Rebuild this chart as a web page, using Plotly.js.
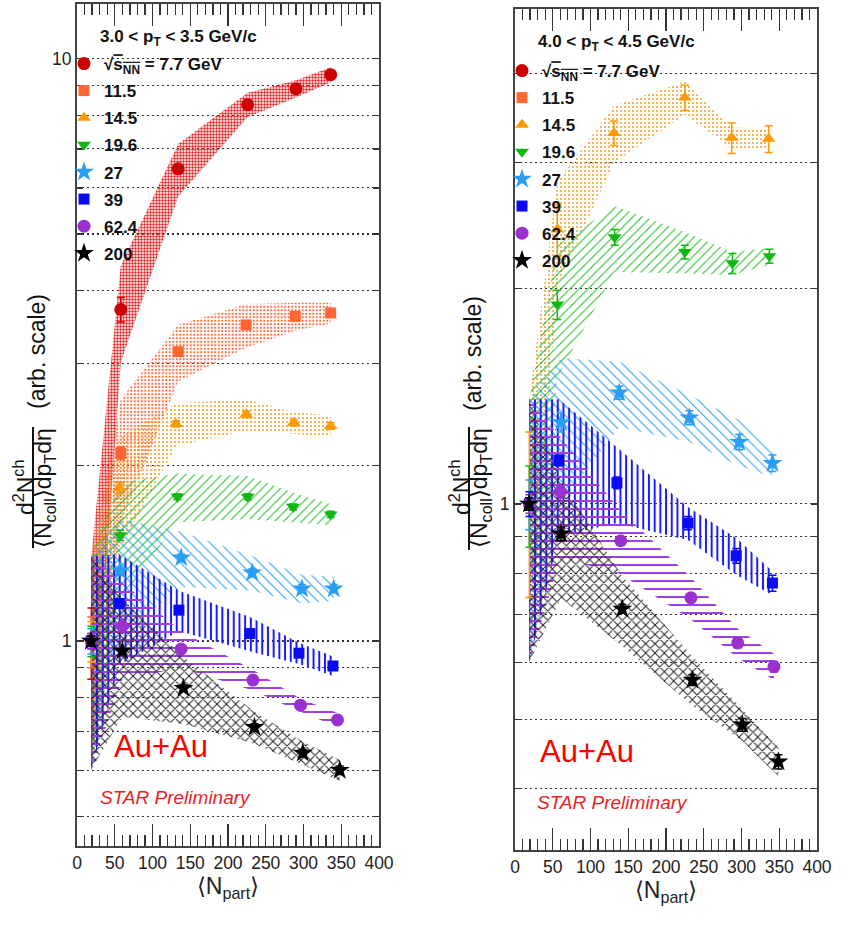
<!DOCTYPE html>
<html>
<head>
<meta charset="utf-8">
<script src="https://cdn.plot.ly/plotly-3.0.1.min.js"></script>
<style>html,body{margin:0;padding:0;background:#fff;}</style>
</head>
<body>
<div id="chart" style="width:848px;height:927px;"></div>
<script>
// Beam energies and legend labels
const energies = ['7.7', '11.5', '14.5', '19.6', '27', '39', '62.4', '200'];
const legendNames = [
  '√<span style="text-decoration:overline">s<sub>NN</sub></span> = 7.7 GeV',
  '11.5', '14.5', '19.6', '27', '39', '62.4', '200'
];

// Log-axis tick positions and labels
const yTickVals = [0.3, 0.4, 0.5, 0.6, 0.7, 0.8, 0.9, 1, 2, 3, 4, 5, 6, 7, 8, 9, 10];
const yTickText = ['', '', '', '', '', '', '', '1', '', '', '', '', '', '', '', '', '10'];

// ---- 3.0 < pT < 3.5 GeV/c : <Npart>, normalised yield, stat. error, syst. error ----
const npartA_7p7 = [19, 58, 134, 226, 290, 336];
const ratioA_7p7 = [1.00, 3.71, 6.47, 8.34, 8.88, 9.39];
const statA_7p7  = [0.14, 0.18, 0.10, 0.10, 0.10, 0.10];
const sysA_7p7   = [0.40, 0.70, 0.67, 0.40, 0.30, 0.28];

const npartA_11p5 = [19, 58, 134, 224, 289, 336];
const ratioA_11p5 = [1.00, 2.10, 3.14, 3.49, 3.61, 3.66];
const statA_11p5  = [0.10, 0.05, 0.04, 0.04, 0.04, 0.04];
const sysA_11p5   = [0.40, 0.50, 0.35, 0.30, 0.20, 0.15];

const npartA_14p5 = [19, 56, 131, 224, 287, 336];
const ratioA_14p5 = [1.00, 1.83, 2.36, 2.45, 2.37, 2.34];
const statA_14p5  = [0.08, 0.04, 0.03, 0.03, 0.03, 0.03];
const sysA_14p5   = [0.40, 0.40, 0.20, 0.15, 0.10, 0.10];

const npartA_19p6 = [19, 57, 133, 226, 286, 336];
const ratioA_19p6 = [1.00, 1.52, 1.77, 1.77, 1.70, 1.65];
const statA_19p6  = [0.06, 0.03, 0.02, 0.02, 0.02, 0.02];
const sysA_19p6   = [0.40, 0.35, 0.17, 0.15, 0.10, 0.07];

const npartA_27 = [19, 57, 138, 232, 298, 340];
const ratioA_27 = [1.00, 1.32, 1.39, 1.31, 1.23, 1.23];
const statA_27  = [0.05, 0.02, 0.02, 0.02, 0.02, 0.02];
const sysA_27   = [0.40, 0.30, 0.15, 0.09, 0.07, 0.06];

const npartA_39 = [19, 56, 135, 229, 294, 339];
const ratioA_39 = [1.00, 1.16, 1.13, 1.03, 0.953, 0.906];
const statA_39  = [0.03, 0.02, 0.01, 0.01, 0.01, 0.01];
const sysA_39   = [0.40, 0.25, 0.09, 0.07, 0.04, 0.035];

const npartA_62p4 = [19, 60, 138, 233, 296, 345];
const ratioA_62p4 = [1.00, 1.06, 0.969, 0.857, 0.776, 0.732];
const statA_62p4  = [0.03, 0.02, 0.01, 0.01, 0.01, 0.01];
const sysA_62p4   = [0.40, 0.20, 0.07, 0.035, 0.02, 0.02];

const npartA_200 = [18.5, 60, 141, 235, 299, 348];
const ratioA_200 = [1.00, 0.961, 0.830, 0.711, 0.642, 0.600];
const statA_200  = [0.02, 0.01, 0.01, 0.01, 0.01, 0.01];
const sysA_200   = [0.40, 0.22, 0.11, 0.045, 0.03, 0.025];

// ---- 4.0 < pT < 4.5 GeV/c (7.7 and 11.5 GeV have no point inside the plotted range) ----
const npartB_7p7 = [null];
const ratioB_7p7 = [null];
const statB_7p7  = [0];
const sysB_7p7   = [0];

const npartB_11p5 = [null];
const ratioB_11p5 = [null];
const statB_11p5  = [0];
const sysB_11p5   = [0];

const npartB_14p5 = [19, 56, 131, 225, 287, 336];
const ratioB_14p5 = [1.00, 2.42, 3.30, 3.70, 3.25, 3.24];
const statB_14p5  = [0.26, 0.20, 0.13, 0.15, 0.16, 0.14];
const sysB_14p5   = [0.40, 0.40, 0.30, 0.20, 0.11, 0.11];

const npartB_19p6 = [19, 56, 132, 225, 288, 337];
const ratioB_19p6 = [1.00, 1.90, 2.36, 2.25, 2.17, 2.22];
const statB_19p6  = [0.13, 0.09, 0.06, 0.05, 0.07, 0.05];
const sysB_19p6   = [0.40, 0.40, 0.25, 0.15, 0.08, 0.06];

const npartB_27 = [19, 61, 138, 231, 297, 341];
const ratioB_27 = [1.00, 1.30, 1.43, 1.32, 1.22, 1.14];
const statB_27  = [0.08, 0.04, 0.03, 0.03, 0.03, 0.03];
const sysB_27   = [0.40, 0.30, 0.15, 0.10, 0.09, 0.05];

const npartB_39 = [19, 58, 135, 229, 293, 341];
const ratioB_39 = [1.00, 1.15, 1.07, 0.940, 0.846, 0.775];
const statB_39  = [0.04, 0.02, 0.02, 0.02, 0.02, 0.02];
const sysB_39   = [0.40, 0.25, 0.13, 0.05, 0.05, 0.03];

const npartB_62p4 = [19, 60, 140, 233, 295, 343];
const ratioB_62p4 = [1.00, 1.04, 0.888, 0.739, 0.639, 0.592];
const statB_62p4  = [0.03, 0.02, 0.01, 0.01, 0.01, 0.01];
const sysB_62p4   = [0.40, 0.20, 0.09, 0.05, 0.03, 0.025];

const npartB_200 = [18.5, 61, 142, 235, 301, 349];
const ratioB_200 = [1.00, 0.908, 0.713, 0.567, 0.491, 0.436];
const statB_200  = [0.02, 0.02, 0.01, 0.01, 0.01, 0.01];
const sysB_200   = [0.40, 0.17, 0.08, 0.045, 0.025, 0.02];

const panelA = [
  {npart: npartA_7p7,  ratio: ratioA_7p7,  stat: statA_7p7,  sys: sysA_7p7},
  {npart: npartA_11p5, ratio: ratioA_11p5, stat: statA_11p5, sys: sysA_11p5},
  {npart: npartA_14p5, ratio: ratioA_14p5, stat: statA_14p5, sys: sysA_14p5},
  {npart: npartA_19p6, ratio: ratioA_19p6, stat: statA_19p6, sys: sysA_19p6},
  {npart: npartA_27,   ratio: ratioA_27,   stat: statA_27,   sys: sysA_27},
  {npart: npartA_39,   ratio: ratioA_39,   stat: statA_39,   sys: sysA_39},
  {npart: npartA_62p4, ratio: ratioA_62p4, stat: statA_62p4, sys: sysA_62p4},
  {npart: npartA_200,  ratio: ratioA_200,  stat: statA_200,  sys: sysA_200}
];
const panelB = [
  {npart: npartB_7p7,  ratio: ratioB_7p7,  stat: statB_7p7,  sys: sysB_7p7},
  {npart: npartB_11p5, ratio: ratioB_11p5, stat: statB_11p5, sys: sysB_11p5},
  {npart: npartB_14p5, ratio: ratioB_14p5, stat: statB_14p5, sys: sysB_14p5},
  {npart: npartB_19p6, ratio: ratioB_19p6, stat: statB_19p6, sys: sysB_19p6},
  {npart: npartB_27,   ratio: ratioB_27,   stat: statB_27,   sys: sysB_27},
  {npart: npartB_39,   ratio: ratioB_39,   stat: statB_39,   sys: sysB_39},
  {npart: npartB_62p4, ratio: ratioB_62p4, stat: statB_62p4, sys: sysB_62p4},
  {npart: npartB_200,  ratio: ratioB_200,  stat: statB_200,  sys: sysB_200}
];

// Marker and hatch style for each energy
const styles = [
  {color: '#cc0000', symbol: 'circle',        size: 13, pattern: {shape: '.',  size: 3,   solidity: 0.5,  fgcolor: '#e42222'}},
  {color: '#ff6633', symbol: 'square',        size: 11, pattern: {shape: '.',  size: 3.5, solidity: 0.3,  fgcolor: '#ff6a3d'}},
  {color: '#ff9900', symbol: 'triangle-up',   size: 12, pattern: {shape: '.',  size: 4,   solidity: 0.2,  fgcolor: '#ff9a1a'}},
  {color: '#12b812', symbol: 'triangle-down', size: 12, pattern: {shape: '/',  size: 6.4, solidity: 0.17, fgcolor: '#22c022'}},
  {color: '#2a9df4', symbol: 'star',          size: 15, pattern: {shape: '\\', size: 7,   solidity: 0.15, fgcolor: '#2a9df4'}},
  {color: '#0a0af5', symbol: 'square',        size: 11, pattern: {shape: '|',  size: 5.7, solidity: 0.35, fgcolor: '#1a1aff'}},
  {color: '#9b30d0', symbol: 'circle',        size: 13, pattern: {shape: '-',  size: 8,   solidity: 0.25, fgcolor: '#a040e0'}, alt: {index: 1, symbol: 'diamond'}},
  {color: '#000000', symbol: 'star',          size: 15, pattern: {shape: 'x',  size: 6.6, solidity: 0.28, fgcolor: '#222222'}}
];

function panelTraces(series, xa, ya, legendId, tag) {
  const bands = [], marks = [];
  series.forEach((s, i) => {
    const st = styles[i];
    const hasData = s.ratio.some(v => v !== null);
    if (hasData) {
      const up = s.ratio.map((v, k) => v + s.sys[k]);
      const lo = s.ratio.map((v, k) => v - s.sys[k]);
      bands.push({
        type: 'scatter', mode: 'lines', xaxis: xa, yaxis: ya,
        x: s.npart.concat(s.npart.slice().reverse()),
        y: up.concat(lo.slice().reverse()),
        fill: 'toself', fillcolor: 'rgba(0,0,0,0)',
        fillpattern: Object.assign({}, st.pattern, {bgcolor: 'rgba(0,0,0,0)', fillmode: 'replace'}),
        line: {width: 0}, hoverinfo: 'skip', showlegend: false
      });
    }
    const sym = s.npart.map((_, k) => (st.alt && k === st.alt.index) ? st.alt.symbol : st.symbol);
    marks.push({
      type: 'scatter', mode: 'markers', xaxis: xa, yaxis: ya,
      x: s.npart, y: s.ratio, name: legendNames[i] || energies[i],
      legend: legendId, legendgroup: tag + i,
      marker: {color: st.color, symbol: sym, size: st.size, line: {width: 0}},
      error_y: {type: 'data', array: s.stat, visible: hasData, color: st.color, thickness: 1.5, width: 4}
    });
  });
  return bands.concat(marks);
}

const data = panelTraces(panelA, 'x', 'y', 'legend', 'A')
  .concat(panelTraces(panelB, 'x2', 'y2', 'legend2', 'B'));

const W = 848, H = 927;
const px = v => v / W;
const py = v => 1 - v / H;
const FONT = 'Liberation Sans, Arial, Helvetica, sans-serif';

function xAxis(left, right, anchor) {
  return {
    domain: [px(left), px(right)], anchor: anchor, range: [0, 400],
    tick0: 0, dtick: 50, ticks: 'inside', ticklen: 22, tickwidth: 1.3, tickcolor: '#333',
    minor: {dtick: 10, ticks: 'inside', ticklen: 11, tickwidth: 1.3, tickcolor: '#333', showgrid: false},
    showline: true, linecolor: '#444', linewidth: 2, mirror: 'ticks',
    showgrid: false, zeroline: false, fixedrange: true,
    tickfont: {family: FONT, size: 17.5, color: '#222'},
    title: {text: '⟨N<sub>part</sub>⟩', font: {family: FONT, size: 23, color: '#222'}, standoff: 4}
  };
}
function yAxis(top, bottom, anchor, range) {
  return {
    domain: [py(bottom), py(top)], anchor: anchor, type: 'log', range: range,
    tickmode: 'array', tickvals: yTickVals, ticktext: yTickText,
    ticks: 'inside', ticklen: 6, tickwidth: 1.3, tickcolor: '#333',
    showline: true, linecolor: '#444', linewidth: 2, mirror: 'ticks',
    showgrid: true, gridcolor: '#333', gridwidth: 1.1, griddash: '2px,3px',
    zeroline: false, fixedrange: true,
    tickfont: {family: FONT, size: 17.5, color: '#222'}
  };
}

const legendBase = {
  xanchor: 'left', yanchor: 'top', bgcolor: 'rgba(0,0,0,0)', borderwidth: 0,
  font: {family: FONT, size: 17, color: '#111', weight: 'bold'},
  traceorder: 'grouped', tracegroupgap: 2, itemwidth: 30,
  itemclick: false, itemdoubleclick: false
};

function note(x, y, text, font, extra) {
  return Object.assign({xref: 'paper', yref: 'paper', x: px(x), y: py(y), text: text,
    showarrow: false, xanchor: 'center', yanchor: 'middle', font: font}, extra || {});
}
const titleFont = {family: FONT, size: 23, color: '#111'};
const headFont = {family: FONT, size: 17, color: '#111'};
const auFont = {family: FONT, size: 31, color: '#ff0000'};
const starFont = {family: FONT, size: 19, color: '#ee1c24'};

const layout = {
  width: W, height: H, autosize: false,
  margin: {l: 0, r: 0, t: 0, b: 0, pad: 0},
  paper_bgcolor: '#ffffff', plot_bgcolor: 'rgba(0,0,0,0)',
  showlegend: true,
  xaxis: xAxis(77, 379, 'y'),
  yaxis: yAxis(4, 846, 'x', [-0.352, 1.094]),
  xaxis2: xAxis(515, 817, 'y2'),
  yaxis2: yAxis(9, 850, 'x2', [-0.484, 0.692]),
  legend: Object.assign({}, legendBase, {x: px(64), y: py(46)}),
  legend2: Object.assign({}, legendBase, {x: px(502), y: py(53)}),
  annotations: [
    note(98, 38, '<b>3.0 &lt; p<sub>T</sub> &lt; 3.5 GeV/c</b>', headFont, {xanchor: 'left'}),
    note(536, 43, '<b>4.0 &lt; p<sub>T</sub> &lt; 4.5 GeV/c</b>', headFont, {xanchor: 'left'}),
    note(161, 746, 'Au+Au', auFont),
    note(587, 751, 'Au+Au', auFont),
    note(175, 797, '<i>STAR Preliminary</i>', starFont),
    note(612, 802, '<i>STAR Preliminary</i>', starFont),
    note(24, 488, 'd<sup>2</sup>N<sup>ch</sup>', titleFont, {textangle: -90}),
    note(44, 488, '⟨N<sub>coll</sub>⟩dp<sub>T</sub>dη', titleFont, {textangle: -90}),
    note(37, 352, '(arb. scale)', titleFont, {textangle: -90}),
    note(460, 488, 'd<sup>2</sup>N<sup>ch</sup>', titleFont, {textangle: -90}),
    note(480, 488, '⟨N<sub>coll</sub>⟩dp<sub>T</sub>dη', titleFont, {textangle: -90}),
    note(473, 353, '(arb. scale)', titleFont, {textangle: -90})
  ],
  shapes: [
    {type: 'line', xref: 'paper', yref: 'paper', x0: px(33), x1: px(33), y0: py(427), y1: py(548), line: {color: '#111', width: 2}},
    {type: 'line', xref: 'paper', yref: 'paper', x0: px(469), x1: px(469), y0: py(427), y1: py(550), line: {color: '#111', width: 2}}
  ]
};

Plotly.newPlot('chart', data, layout, {displayModeBar: false, staticPlot: true});
</script>
</body>
</html>
